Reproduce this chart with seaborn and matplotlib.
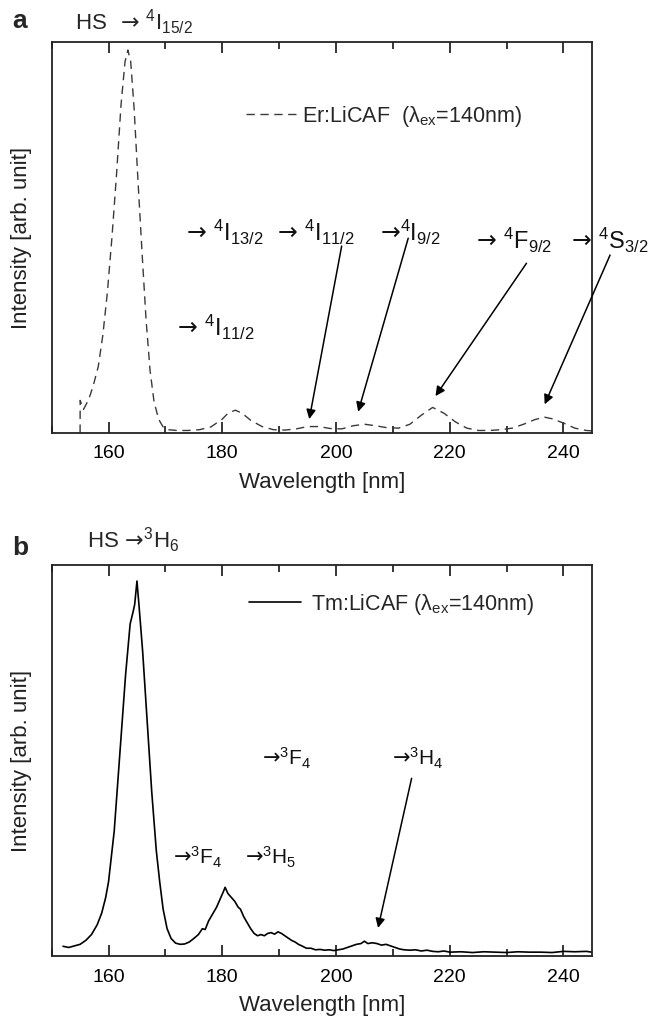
import numpy as np
import pandas as pd
import matplotlib
matplotlib.use("Agg")
import matplotlib.pyplot as plt
from matplotlib.ticker import MultipleLocator
import seaborn as sns

# Er:LiCAF emission (dashed), normalised intensity
er_wl = [155.0, 155.01, 155.6, 156.5, 157.3, 158.2, 159.0, 159.8, 160.6, 161.4, 162.2,
         162.9, 163.4, 163.9, 164.5, 165.2, 165.9, 166.6, 167.3, 168.0, 168.8, 169.6,
         170.5, 172, 174, 176, 178, 180, 181, 182.3, 183.5, 185, 187, 189, 191, 193,
         195, 197, 199, 201, 203, 205, 207, 209, 211, 213, 215, 217, 219, 221, 223,
         225, 227, 229, 231, 233, 235, 236.7, 238, 240, 242, 244, 245]
er_int = [0.0, 0.083, 0.06, 0.085, 0.12, 0.17, 0.25, 0.36, 0.5, 0.66, 0.84,
          0.95, 0.98, 0.95, 0.83, 0.64, 0.46, 0.29, 0.16, 0.08, 0.035, 0.015,
          0.008, 0.006, 0.006, 0.008, 0.015, 0.035, 0.05, 0.058, 0.05, 0.032, 0.016, 0.008, 0.007, 0.01,
          0.016, 0.016, 0.011, 0.01, 0.018, 0.022, 0.018, 0.013, 0.012, 0.022, 0.045, 0.065, 0.05, 0.028, 0.012,
          0.006, 0.006, 0.008, 0.012, 0.022, 0.034, 0.04, 0.036, 0.025, 0.012, 0.006, 0.005]

# Tm:LiCAF emission (solid)
tm_wl = [152, 153, 154, 155, 156, 157, 158, 158.8, 159.5, 160, 161, 162, 163, 163.8, 164.3,
         164.6, 165, 165.4, 166, 166.8, 167.6, 168.4, 169, 169.6, 170.3, 171, 171.8, 172.6,
         173.4, 174.2, 175, 175.8, 176.5, 177, 177.6, 178.2, 179, 179.6, 180.2, 180.5, 181,
         181.6, 182.2, 182.8, 183.2, 183.8, 184.4, 185, 185.6, 186.2, 186.8, 187.4, 188, 188.6,
         189.2, 189.8, 190.4, 191, 191.6, 192.2, 192.8, 193.4, 194, 194.8, 195.6, 196.4, 197.2,
         198, 198.8, 199.6, 200.4, 201.2, 202, 202.8, 203.6, 204.4, 205, 205.6, 206.4, 207.2,
         208, 208.8, 209.6, 210.4, 211.2, 212, 213, 214, 215, 216, 217, 218, 219, 220, 222,
         224, 226, 228, 230, 232, 234, 236, 238, 240, 242, 244, 245]
tm_int = [0.025, 0.022, 0.026, 0.03, 0.04, 0.055, 0.08, 0.11, 0.15, 0.19, 0.32, 0.52, 0.72, 0.85, 0.88,
          0.9, 0.96, 0.89, 0.78, 0.6, 0.42, 0.27, 0.19, 0.12, 0.07, 0.045, 0.033, 0.03,
          0.031, 0.036, 0.045, 0.055, 0.07, 0.068, 0.09, 0.105, 0.125, 0.145, 0.165, 0.176, 0.16,
          0.15, 0.14, 0.125, 0.12, 0.1, 0.085, 0.07, 0.058, 0.052, 0.055, 0.052, 0.058, 0.06,
          0.056, 0.062, 0.058, 0.052, 0.046, 0.04, 0.036, 0.03, 0.026, 0.02, 0.02, 0.016, 0.017,
          0.015, 0.016, 0.014, 0.016, 0.018, 0.022, 0.026, 0.03, 0.032, 0.038, 0.032, 0.034, 0.032,
          0.028, 0.03, 0.026, 0.022, 0.018, 0.016, 0.015, 0.016, 0.013, 0.015, 0.012, 0.011, 0.013, 0.01, 0.011,
          0.009, 0.011, 0.01, 0.009, 0.011, 0.01, 0.01, 0.009, 0.012, 0.011, 0.012, 0.01]

# transition labels: (text, x, y) in data units
er_labels = [(r"→ $^{4}I_{13/2}$", 173.6, 0.514),
             (r"→ $^{4}I_{11/2}$", 189.6, 0.514),
             (r"→$^{4}I_{9/2}$", 207.8, 0.514),
             (r"→ $^{4}F_{9/2}$", 224.6, 0.493),
             (r"→ $^{4}S_{3/2}$", 241.4, 0.493),
             (r"→ $^{4}I_{11/2}$", 172.0, 0.27)]
# arrows: (start x, start y, tip x, tip y)
er_arrows = [(201.0, 0.478, 195.3, 0.035),
             (212.7, 0.498, 203.9, 0.054),
             (233.5, 0.434, 217.5, 0.094),
             (248.2, 0.455, 236.7, 0.073)]

tm_labels = [(r"→$^{3}F_{4}$", 187.0, 0.505),
             (r"→$^{3}H_{4}$", 209.8, 0.505),
             (r"→$^{3}F_{4}$", 171.4, 0.253),
             (r"→$^{3}H_{5}$", 184.0, 0.253)]
tm_arrows = [(213.3, 0.455, 207.4, 0.072)]

sns.set_theme(style="ticks")
plt.rcParams["font.family"] = ["Liberation Sans", "DejaVu Sans"]
plt.rcParams["mathtext.fontset"] = "custom"
plt.rcParams["mathtext.rm"] = "Liberation Sans"
plt.rcParams["mathtext.it"] = "Liberation Sans"
plt.rcParams["mathtext.bf"] = "Liberation Sans:bold"
plt.rcParams["mathtext.default"] = "rm"

fig = plt.figure(figsize=(6.54, 10.16), dpi=100, facecolor="white")
ax1 = fig.add_axes([0.079, 0.574, 0.826, 0.3845])
ax2 = fig.add_axes([0.079, 0.059, 0.826, 0.3845])

er_df = pd.DataFrame({"wl": er_wl, "I": er_int})
tm_df = pd.DataFrame({"wl": tm_wl, "I": tm_int})

sns.lineplot(data=er_df, x="wl", y="I", ax=ax1, sort=False, estimator=None,
             color="#3a3a3a", lw=1.0, linestyle=(0, (6, 4)),
             label="Er:LiCAF  (λ$_{ex}$=140nm)")
sns.lineplot(data=tm_df, x="wl", y="I", ax=ax2, sort=False, estimator=None,
             color="black", lw=1.2, label="Tm:LiCAF (λ$_{ex}$=140nm)")

arrowkw = dict(arrowstyle="-|>", color="black", lw=1.1, mutation_scale=14,
               shrinkA=0, shrinkB=0)

for ax in (ax1, ax2):
    ax.set_xlim(150, 245)
    ax.set_ylim(0, 1)
    ax.set_yticks([])
    ax.xaxis.set_major_locator(MultipleLocator(20))
    ax.xaxis.set_minor_locator(MultipleLocator(10))
    ax.tick_params(axis="x", which="both", direction="in", top=True, bottom=True,
                   labelsize=14, colors="black", pad=9)
    ax.tick_params(axis="x", which="major", length=8, width=1.1)
    ax.tick_params(axis="x", which="minor", length=5, width=1.1)
    for sp in ax.spines.values():
        sp.set_visible(True)
        sp.set_color("#222222")
        sp.set_linewidth(1.3)
    ax.set_xlabel("Wavelength [nm]", fontsize=16, color="#222222", labelpad=7)
    ax.set_ylabel("Intensity [arb. unit]", fontsize=16, color="#222222", labelpad=14)
    ax.grid(False)

ax1.legend(loc="center left", bbox_to_anchor=(0.36, 0.81), frameon=False, fontsize=15.5,
           handlelength=2.4, handletextpad=0.2, borderpad=0, borderaxespad=0)
ax2.legend(loc="center left", bbox_to_anchor=(0.365, 0.9), frameon=False, fontsize=15.5,
           handlelength=2.4, handletextpad=0.5, borderpad=0, borderaxespad=0)

# the arrow glyph comes from DejaVu Sans (filled head), the term symbols from Liberation Sans
for txt, x, y in er_labels:
    ax1.text(x, y, txt, fontsize=17, ha="left", va="center", color="#111111",
             family="DejaVu Sans")
for x0, y0, x1, y1 in er_arrows:
    ax1.annotate("", xy=(x1, y1), xytext=(x0, y0), arrowprops=arrowkw, annotation_clip=False)

for txt, x, y in tm_labels:
    ax2.text(x, y, txt, fontsize=15, ha="left", va="center", color="#111111",
             family="DejaVu Sans")
for x0, y0, x1, y1 in tm_arrows:
    ax2.annotate("", xy=(x1, y1), xytext=(x0, y0), arrowprops=arrowkw, annotation_clip=False)

ax1.text(0.043, 1.052, r"$HS$  → $^{4}I_{15/2}$", transform=ax1.transAxes, fontsize=16,
         ha="left", va="center", family="DejaVu Sans")
ax2.text(0.065, 1.064, r"$HS$ →$^{3}H_{6}$", transform=ax2.transAxes, fontsize=16,
         ha="left", va="center", family="DejaVu Sans")

fig.text(0.018, 0.979, "a", fontsize=19, fontweight="bold", ha="left", va="center")
fig.text(0.018, 0.461, "b", fontsize=19, fontweight="bold", ha="left", va="center")

fig.savefig("out.png", dpi=100, facecolor="white")
